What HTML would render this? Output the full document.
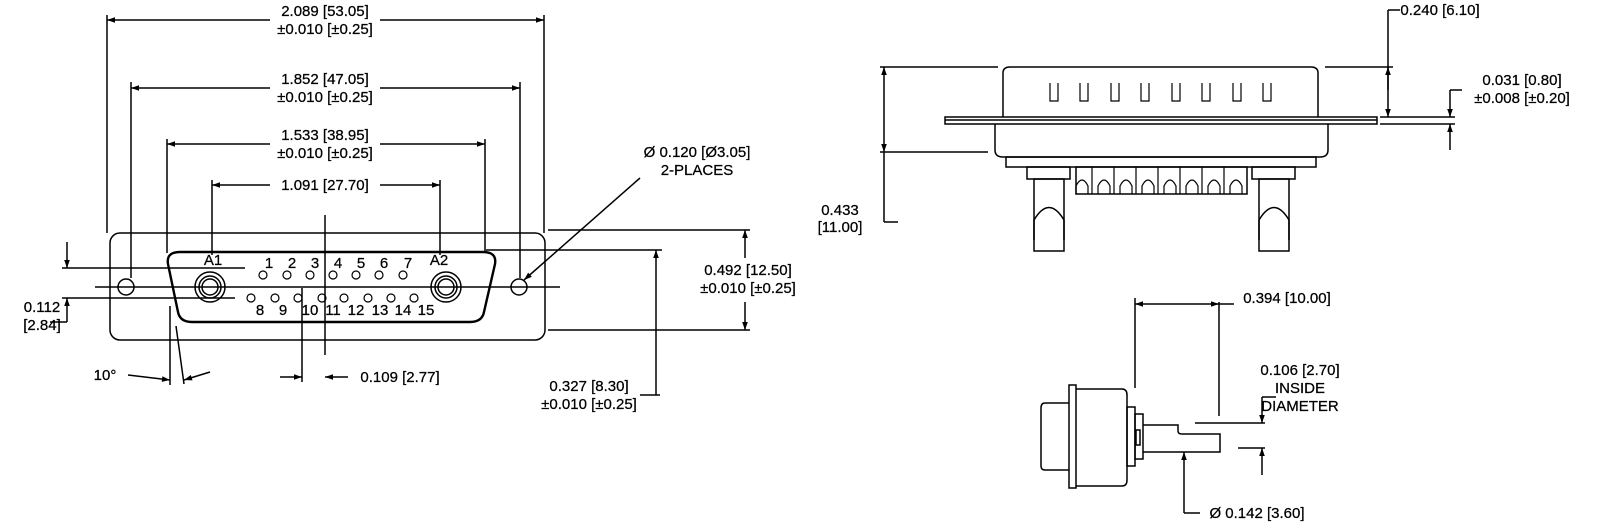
<!DOCTYPE html>
<html><head><meta charset="utf-8"><style>
html,body{margin:0;padding:0;background:#fff}
svg{display:block}
text{font-family:"Liberation Sans",Arial,sans-serif;font-size:15px;fill:#000;stroke:#000;stroke-width:0.25px}
</style></head><body>
<svg width="1600" height="529" viewBox="0 0 1600 529" xmlns="http://www.w3.org/2000/svg">
<defs>
<marker id="a" viewBox="0 0 10 10" refX="10" refY="5" markerWidth="13" markerHeight="8" markerUnits="userSpaceOnUse" orient="auto-start-reverse"><path d="M0,1.5 L10,5 L0,8.5 z" fill="#000"/></marker>
</defs>
<g stroke="#000" stroke-width="1.5" fill="none">
<!-- LEFT FRONT VIEW -->
<rect x="110" y="233" width="435" height="107" rx="10"/>
<path d="M180,252 L483,252 Q497,252 495,264 L484,312 Q482,322 470,322 L192,322 Q180,322 178,312 L168,264 Q166,252 180,252 Z" stroke-width="2.4"/>
<circle cx="126" cy="287" r="8"/><circle cx="519" cy="287" r="8"/>
<circle cx="210" cy="287" r="15"/><circle cx="210" cy="287" r="11"/><circle cx="210" cy="287" r="8"/>
<circle cx="446" cy="287" r="15"/><circle cx="446" cy="287" r="11"/><circle cx="446" cy="287" r="8"/>
<g stroke-width="1.2">
<circle cx="263" cy="275" r="4"/><circle cx="287" cy="275" r="4"/><circle cx="310" cy="275" r="4"/><circle cx="333" cy="275" r="4"/><circle cx="356" cy="275" r="4"/><circle cx="379" cy="275" r="4"/><circle cx="403" cy="275" r="4"/>
<circle cx="251" cy="298" r="4"/><circle cx="275" cy="298" r="4"/><circle cx="298" cy="298" r="4"/><circle cx="322" cy="298" r="4"/><circle cx="344" cy="298" r="4"/><circle cx="368" cy="298" r="4"/><circle cx="391" cy="298" r="4"/><circle cx="414" cy="298" r="4"/>
</g>
<line x1="95" y1="287" x2="560" y2="287"/>
<line x1="325" y1="215" x2="325" y2="355"/>
<line x1="107" y1="15" x2="107" y2="233"/><line x1="544" y1="15" x2="544" y2="233"/>
<line x1="107" y1="20" x2="270" y2="20" marker-start="url(#a)"/><line x1="380" y1="20" x2="544" y2="20" marker-end="url(#a)"/>
<line x1="131" y1="82" x2="131" y2="278"/><line x1="520" y1="82" x2="520" y2="278"/>
<line x1="131" y1="88" x2="270" y2="88" marker-start="url(#a)"/><line x1="380" y1="88" x2="520" y2="88" marker-end="url(#a)"/>
<line x1="167" y1="139" x2="167" y2="253"/><line x1="485" y1="139" x2="485" y2="253"/>
<line x1="167" y1="144" x2="270" y2="144" marker-start="url(#a)"/><line x1="380" y1="144" x2="485" y2="144" marker-end="url(#a)"/>
<line x1="212" y1="180" x2="212" y2="255"/><line x1="440" y1="180" x2="440" y2="255"/>
<line x1="212" y1="185" x2="270" y2="185" marker-start="url(#a)"/><line x1="380" y1="185" x2="440" y2="185" marker-end="url(#a)"/>
<line x1="640" y1="178" x2="524" y2="280" marker-end="url(#a)"/>
<line x1="548" y1="230" x2="750" y2="230"/><line x1="548" y1="330" x2="750" y2="330"/>
<line x1="745" y1="258" x2="745" y2="230" marker-end="url(#a)"/><line x1="745" y1="302" x2="745" y2="330" marker-end="url(#a)"/>
<line x1="486" y1="250" x2="662" y2="250"/><line x1="640" y1="395" x2="660" y2="395"/>
<line x1="656" y1="395" x2="656" y2="250" marker-end="url(#a)"/>
<line x1="62" y1="268" x2="245" y2="268"/><line x1="62" y1="298" x2="235" y2="298"/>
<line x1="67" y1="242" x2="67" y2="268" marker-end="url(#a)"/><line x1="67" y1="322" x2="67" y2="298" marker-end="url(#a)"/>
<line x1="50" y1="322" x2="67" y2="322"/>
<line x1="170" y1="306" x2="170" y2="385"/><line x1="176" y1="326" x2="184" y2="384"/>
<line x1="128" y1="375" x2="170" y2="380" marker-end="url(#a)"/><line x1="210" y1="372" x2="184" y2="380" marker-end="url(#a)"/>
<line x1="302" y1="288" x2="302" y2="382"/>
<line x1="280" y1="377" x2="302" y2="377" marker-end="url(#a)"/><line x1="348" y1="377" x2="325" y2="377" marker-end="url(#a)"/>

<!-- RIGHT TOP VIEW -->
<path d="M1003,117 L1003,73 Q1003,67 1010,67 L1311,67 Q1318,67 1318,73 L1318,117"/>
<rect x="945" y="117" width="432" height="7"/><line x1="945" y1="120" x2="1377" y2="120"/>
<path d="M995,124 L995,150 Q995,157 1003,157 L1320,157 Q1328,157 1328,150 L1328,124"/>
<rect x="1006" y="157" width="310" height="10"/>
<rect x="1027" y="167" width="43" height="12"/><rect x="1252" y="167" width="43" height="12"/>
<rect x="1034" y="179" width="30" height="72"/><rect x="1259" y="179" width="30" height="72"/>
<path d="M1034,240 L1034,220 Q1049,195 1064,220 L1064,240"/><path d="M1259,240 L1259,220 Q1274,195 1289,220 L1289,240"/>
<rect x="1076" y="167" width="171" height="27"/>
<g stroke-width="1.2">
<path d="M1076,194 V186 Q1082,174 1088,186 V194 M1092,167 V194 M1098,194 V186 Q1104,174 1110,186 V194 M1114,167 V194 M1120,194 V186 Q1126,174 1132,186 V194 M1136,167 V194 M1142,194 V186 Q1148,174 1154,186 V194 M1158,167 V194 M1164,194 V186 Q1170,174 1176,186 V194 M1180,167 V194 M1186,194 V186 Q1192,174 1198,186 V194 M1202,167 V194 M1208,194 V186 Q1214,174 1220,186 V194 M1224,167 V194 M1230,194 V186 Q1236,174 1242,186 V194"/>
<path d="M1050,83 V101 H1058 V83 M1080,83 V101 H1088 V83 M1111,83 V101 H1119 V83 M1141,83 V101 H1149 V83 M1172,83 V101 H1180 V83 M1202,83 V101 H1210 V83 M1233,83 V101 H1241 V83 M1263,83 V101 H1271 V83"/>
</g>
<line x1="880" y1="67" x2="998" y2="67"/><line x1="880" y1="152" x2="988" y2="152"/>
<line x1="884" y1="110" x2="884" y2="67" marker-end="url(#a)"/><line x1="884" y1="110" x2="884" y2="152" marker-end="url(#a)"/>
<line x1="884" y1="152" x2="884" y2="222"/><line x1="884" y1="222" x2="898" y2="222"/>
<line x1="1325" y1="67" x2="1393" y2="67"/>
<line x1="1388" y1="10" x2="1388" y2="117" marker-end="url(#a)"/><line x1="1388" y1="90" x2="1388" y2="67" marker-end="url(#a)"/>
<line x1="1388" y1="10" x2="1400" y2="10"/>
<line x1="1380" y1="117" x2="1455" y2="117"/><line x1="1380" y1="124" x2="1455" y2="124"/>
<line x1="1450" y1="90" x2="1450" y2="117" marker-end="url(#a)"/><line x1="1450" y1="150" x2="1450" y2="124" marker-end="url(#a)"/>
<line x1="1450" y1="90" x2="1462" y2="90"/>

<!-- SIDE VIEW -->
<path d="M1069,403 L1045,403 Q1041,403 1041,408 L1041,466 Q1041,470 1045,470 L1069,470"/>
<rect x="1069" y="385" width="7" height="103"/>
<path d="M1076,389 L1122,389 Q1127,389 1127,395 L1127,480 Q1127,486 1122,486 L1076,486"/>
<rect x="1127" y="407" width="8" height="59"/>
<rect x="1135" y="414" width="8" height="45"/>
<rect x="1136" y="430" width="4" height="15"/>
<path d="M1143,425 L1178,425 L1178,431 Q1178,434 1182,434 L1220,434 L1220,452 L1143,452"/>
<line x1="1135" y1="298" x2="1135" y2="388"/><line x1="1219" y1="302" x2="1219" y2="416"/>
<line x1="1135" y1="304" x2="1219" y2="304" marker-start="url(#a)" marker-end="url(#a)"/>
<line x1="1219" y1="304" x2="1234" y2="304"/>
<line x1="1195" y1="423" x2="1265" y2="423"/><line x1="1238" y1="448" x2="1265" y2="448"/>
<line x1="1262" y1="397" x2="1262" y2="423" marker-end="url(#a)"/><line x1="1262" y1="475" x2="1262" y2="448" marker-end="url(#a)"/>
<line x1="1262" y1="397" x2="1276" y2="397"/>
<line x1="1184" y1="513" x2="1184" y2="452" marker-end="url(#a)"/><line x1="1184" y1="513" x2="1200" y2="513"/>
</g>
<g>
<text x="325" y="16" text-anchor="middle">2.089 [53.05]</text>
<text x="325" y="34" text-anchor="middle">±0.010 [±0.25]</text>
<text x="325" y="84" text-anchor="middle">1.852 [47.05]</text>
<text x="325" y="102" text-anchor="middle">±0.010 [±0.25]</text>
<text x="325" y="140" text-anchor="middle">1.533 [38.95]</text>
<text x="325" y="158" text-anchor="middle">±0.010 [±0.25]</text>
<text x="325" y="190" text-anchor="middle">1.091 [27.70]</text>
<text x="697" y="157" text-anchor="middle">Ø 0.120 [Ø3.05]</text>
<text x="697" y="175" text-anchor="middle">2-PLACES</text>
<text x="748" y="275" text-anchor="middle">0.492 [12.50]</text>
<text x="748" y="293" text-anchor="middle">±0.010 [±0.25]</text>
<text x="589" y="391" text-anchor="middle">0.327 [8.30]</text>
<text x="589" y="409" text-anchor="middle">±0.010 [±0.25]</text>
<text x="42" y="312" text-anchor="middle">0.112</text>
<text x="42" y="330" text-anchor="middle">[2.84]</text>
<text x="105" y="380" text-anchor="middle">10°</text>
<text x="400" y="382" text-anchor="middle">0.109 [2.77]</text>
<text x="213" y="265" text-anchor="middle">A1</text>
<text x="439" y="265" text-anchor="middle">A2</text>
<text x="269" y="268" text-anchor="middle">1</text><text x="292" y="268" text-anchor="middle">2</text><text x="315" y="268" text-anchor="middle">3</text><text x="338" y="268" text-anchor="middle">4</text><text x="361" y="268" text-anchor="middle">5</text><text x="384" y="268" text-anchor="middle">6</text><text x="408" y="268" text-anchor="middle">7</text>
<text x="260" y="315" text-anchor="middle">8</text><text x="283" y="315" text-anchor="middle">9</text><text x="310" y="315" text-anchor="middle">10</text><text x="333" y="315" text-anchor="middle">11</text><text x="356" y="315" text-anchor="middle">12</text><text x="380" y="315" text-anchor="middle">13</text><text x="403" y="315" text-anchor="middle">14</text><text x="426" y="315" text-anchor="middle">15</text>
<text x="840" y="215" text-anchor="middle">0.433</text>
<text x="840" y="232" text-anchor="middle">[11.00]</text>
<text x="1440" y="15" text-anchor="middle">0.240 [6.10]</text>
<text x="1522" y="85" text-anchor="middle">0.031 [0.80]</text>
<text x="1522" y="103" text-anchor="middle">±0.008 [±0.20]</text>
<text x="1287" y="303" text-anchor="middle">0.394 [10.00]</text>
<text x="1300" y="375" text-anchor="middle">0.106 [2.70]</text>
<text x="1300" y="393" text-anchor="middle">INSIDE</text>
<text x="1300" y="411" text-anchor="middle">DIAMETER</text>
<text x="1257" y="518" text-anchor="middle">Ø 0.142 [3.60]</text>
</g>
</svg>
</body></html>
